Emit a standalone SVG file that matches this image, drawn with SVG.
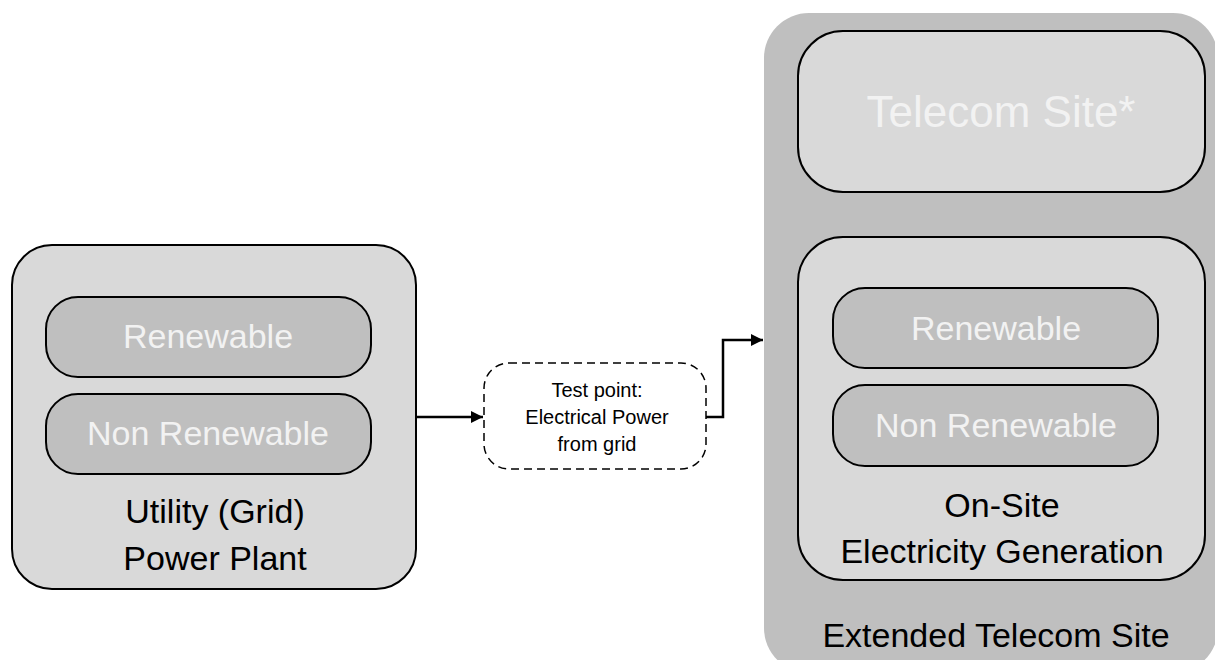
<svg xmlns="http://www.w3.org/2000/svg" width="1215" height="660" viewBox="0 0 1215 660">
<style>
.box{fill:#d9d9d9;stroke:#000;stroke-width:2}
.pill{fill:#bfbfbf;stroke:#000;stroke-width:2}
.wt{fill:#f2f2f2;font-family:"Liberation Sans",Arial,sans-serif;font-size:34px;text-anchor:middle}
.bt{fill:#000;font-family:"Liberation Sans",Arial,sans-serif;font-size:34px;text-anchor:middle}
.st{fill:#000;font-family:"Liberation Sans",Arial,sans-serif;font-size:20px;text-anchor:middle}
.conn{fill:none;stroke:#000;stroke-width:2.5}
</style>
<defs>
<marker id="arr" viewBox="0 0 10 10" refX="10" refY="5" markerWidth="5" markerHeight="5" orient="auto" markerUnits="strokeWidth">
<path d="M0,0 L10,5 L0,10 Z" fill="#000"/>
</marker>
</defs>
<rect width="1215" height="660" fill="#fff"/>
<g id="extended-site">
<rect x="764" y="13" width="454" height="660" rx="45" fill="#bfbfbf"/>
<text class="bt" x="996" y="647">Extended Telecom Site</text>
</g>
<g id="telecom-site">
<rect class="box" x="798" y="31" width="407" height="161" rx="45"/>
<text class="wt" x="1001" y="127" style="font-size:44px">Telecom Site*</text>
</g>
<g id="onsite">
<rect class="box" x="798" y="237" width="407" height="343" rx="45"/>
<rect class="pill" x="833" y="288" width="325" height="80" rx="32"/>
<text class="wt" x="996" y="340">Renewable</text>
<rect class="pill" x="833" y="385" width="325" height="81" rx="32"/>
<text class="wt" x="996" y="437">Non Renewable</text>
<text class="bt" x="1002" y="517">On-Site</text>
<text class="bt" x="1002" y="563">Electricity Generation</text>
</g>
<g id="utility">
<rect class="box" x="12" y="245" width="404" height="344" rx="40"/>
<rect class="pill" x="46" y="297" width="325" height="80" rx="32"/>
<text class="wt" x="208" y="348">Renewable</text>
<rect class="pill" x="46" y="394" width="325" height="80" rx="32"/>
<text class="wt" x="208" y="445">Non Renewable</text>
<text class="bt" x="215" y="523">Utility (Grid)</text>
<text class="bt" x="215" y="570">Power Plant</text>
</g>
<g id="testpoint">
<rect x="484" y="363" width="222" height="106" rx="25" fill="#fff" stroke="#000" stroke-width="1.5" stroke-dasharray="8,5"/>
<text class="st" x="597" y="397">Test point:</text>
<text class="st" x="597" y="424">Electrical Power</text>
<text class="st" x="597" y="451">from grid</text>
</g>
<g id="connectors">
<path class="conn" d="M416,417 L483,417" marker-end="url(#arr)"/>
<path class="conn" d="M706,417 L723,417 L723,340 L763,340" marker-end="url(#arr)"/>
</g>
</svg>
